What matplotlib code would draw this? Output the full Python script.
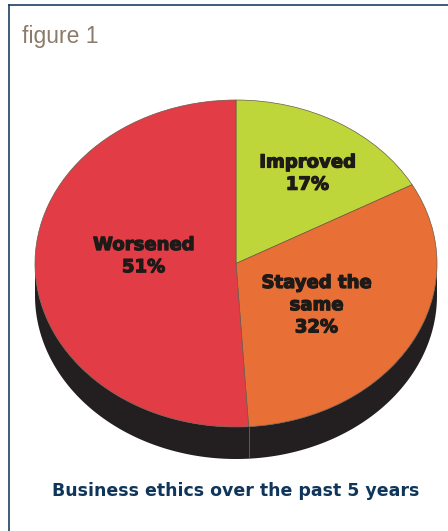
import numpy as np
import matplotlib.pyplot as plt
import matplotlib.patheffects as pe
from matplotlib.lines import Line2D

# data
labels = ['Improved\n17%', 'Stayed the\nsame\n32%', 'Worsened\n51%']
values = [17, 32, 51]
colors = ['#bfd63b', '#e86f35', '#e23d47']
label_pos = [(0.355, 0.55), (0.40, -0.255), (-0.46, 0.045)]

W, H = 448, 531
fig = plt.figure(figsize=(W / 100, H / 100), dpi=100)

# pie top face: ellipse centre (236, 263.5), rx 201, ry 163.5 px; depth 32 px
depth = 32 / 163.5
ax = fig.add_axes([35 / W, (H - 459) / H, 402 / W, 359 / H])

wedges, _ = ax.pie(values, colors=colors, startangle=90, counterclock=False,
                   radius=1, wedgeprops=dict(edgecolor='#6b5a48', linewidth=0.5, zorder=3))

# side wall (front half)
t = np.linspace(np.pi, 2 * np.pi, 300)
xs = np.concatenate([np.cos(t), np.cos(t[::-1])])
ys = np.concatenate([np.sin(t), np.sin(t[::-1]) - depth])
ax.fill(xs, ys, color='#231f20', zorder=1, lw=0)

# seam on the side where Stayed/Worsened meet
ang = np.deg2rad(90 - 360 * (values[0] + values[1]) / sum(values))
ax.plot([np.cos(ang)] * 2, [np.sin(ang), np.sin(ang) - depth],
        color='#8a5a3a', lw=0.6, zorder=2)

for (x, y), lab in zip(label_pos, labels):
    ax.text(x, y, lab, ha='center', va='center', fontsize=13,
            fontweight='bold', family='DejaVu Sans', color='#1e1a18', linespacing=1.3,
            zorder=5, path_effects=[pe.withStroke(linewidth=0.9, foreground='#1e1a18')])

ax.set_xlim(-1, 1)
ax.set_ylim(-1 - depth, 1)
ax.set_aspect('auto')
ax.axis('off')

# frame lines (left and top)
fig.add_artist(Line2D([8.5 / W, 8.5 / W], [0, 1 - 5 / H], color='#1f3f5f', lw=1.2))
fig.add_artist(Line2D([8.5 / W, 1], [1 - 5 / H, 1 - 5 / H], color='#1f3f5f', lw=1.2))

fig.text(22 / W, 1 - 36 / H, 'figure 1', fontsize=16.5, color='#8c7b6b',
         family='Liberation Sans', ha='left', va='center')
fig.text(236 / W, 1 - 491 / H, 'Business ethics over the past 5 years',
         fontsize=12.5, fontweight='bold', color='#0f365a', family='DejaVu Sans',
         ha='center', va='center')

fig.savefig('out.png', dpi=100)
